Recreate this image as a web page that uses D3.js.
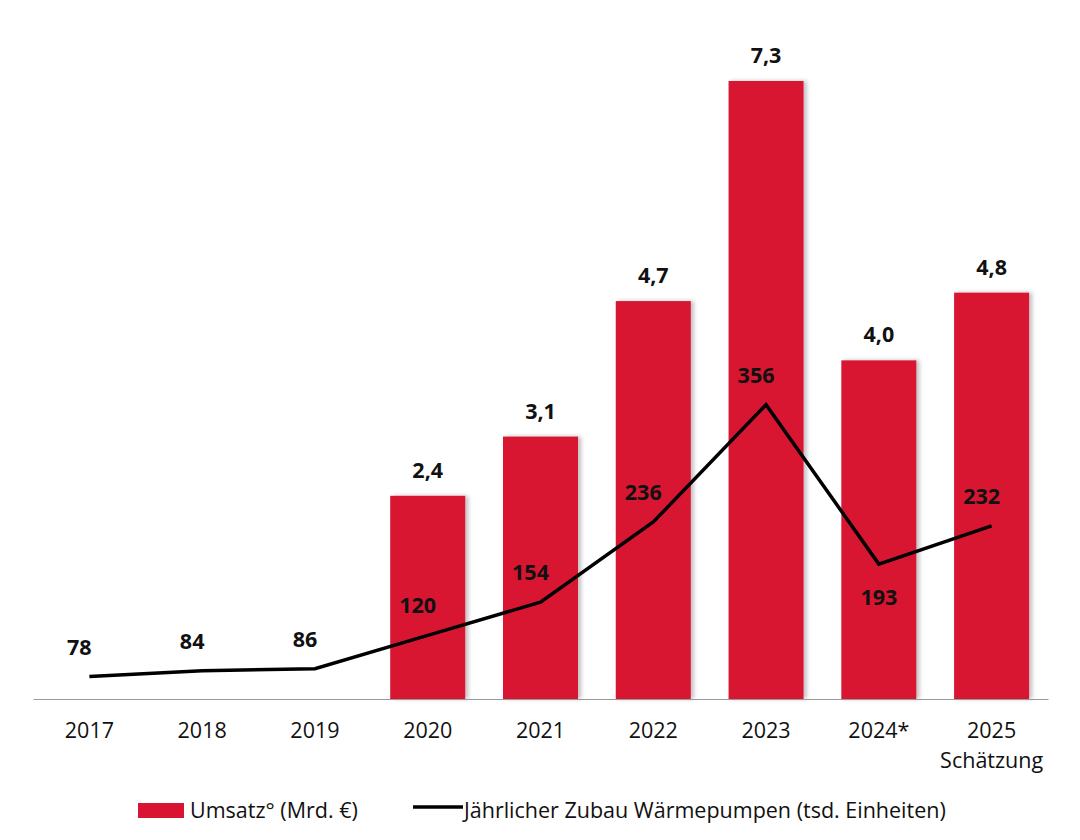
<!DOCTYPE html>
<html>
<head>
<meta charset="utf-8">
<script src="https://cdn.jsdelivr.net/npm/d3@7"></script>
<style>
  body { margin: 0; background: #fff; }
  text { font-family: "Open Sans", sans-serif; fill: #111; }
</style>
</head>
<body>
<div id="chart"></div>
<script>
// ---------------- data ----------------
const years = ["2017", "2018", "2019", "2020", "2021", "2022", "2023", "2024*", "2025"];
const subLabels = ["", "", "", "", "", "", "", "", "Schätzung"];
const umsatz = [null, null, null, 2.4, 3.1, 4.7, 7.3, 4.0, 4.8];
const zubau = [78, 84, 86, 120, 154, 236, 356, 193, 232];
const legendBar = "Umsatz\u00b0 (Mrd. \u20ac)";
const legendLine = "Jährlicher Zubau Wärmepumpen (tsd. Einheiten)";

// ---------------- setup ----------------
const width = 1080, height = 840;
const baseY = 699, topY = 81;
const fs = "21.5px";

const svg = d3.select("#chart").append("svg")
    .attr("width", width)
    .attr("height", height);

const defs = svg.append("defs");
const shadow = defs.append("filter").attr("id", "shadow")
    .attr("x", "-10%").attr("y", "-10%").attr("width", "130%").attr("height", "120%");
shadow.append("feDropShadow")
    .attr("dx", 3).attr("dy", 0).attr("stdDeviation", 2)
    .attr("flood-color", "#000").attr("flood-opacity", 0.25);

const x = d3.scaleBand()
    .domain(years)
    .range([33, 1048])
    .paddingInner(0.335)
    .paddingOuter(0.1675);

const yBar = d3.scaleLinear().domain([0, 7.3]).range([baseY, topY]);
const yLine = d3.scaleLinear().domain([55, 687]).range([baseY, topY]);

const fmt = d => d3.format(".1f")(d).replace(".", ",");

// ---------------- bars ----------------
const barData = years.map((y, i) => ({ year: y, v: umsatz[i] })).filter(d => d.v != null);

svg.append("g").selectAll("rect")
    .data(barData)
    .enter().append("rect")
    .attr("x", d => x(d.year))
    .attr("y", d => yBar(d.v))
    .attr("width", x.bandwidth())
    .attr("height", d => baseY - yBar(d.v))
    .attr("fill", "#d91433")
    .attr("filter", "url(#shadow)");

svg.append("g").selectAll("text")
    .data(barData)
    .enter().append("text")
    .attr("x", d => x(d.year) + x.bandwidth() / 2)
    .attr("y", d => yBar(d.v) - 18)
    .attr("text-anchor", "middle")
    .style("font-size", fs)
    .style("font-weight", "bold")
    .text(d => fmt(d.v));

// ---------------- axis ----------------
const xAxis = d3.axisBottom(x).tickSize(0).tickPadding(0).tickFormat("");
const axisG = svg.append("g")
    .attr("transform", `translate(0,${baseY})`)
    .call(xAxis);
axisG.select(".domain").attr("stroke", "#999").attr("stroke-width", 1);

axisG.selectAll(".tick").each(function (d, i) {
    const t = d3.select(this);
    t.append("text")
        .attr("y", 39)
        .attr("text-anchor", "middle")
        .style("font-size", fs)
        .text(d);
    if (subLabels[i]) {
        t.append("text")
            .attr("y", 69)
            .attr("text-anchor", "middle")
            .style("font-size", fs)
            .text(subLabels[i]);
    }
});

// ---------------- line ----------------
const lineData = years.map((y, i) => ({ year: y, v: zubau[i], i: i }));
const cx = d => x(d.year) + x.bandwidth() / 2;
const isBelow = d => d.i > 0 && d.v < zubau[d.i - 1];

const line = d3.line()
    .x(cx)
    .y(d => yLine(d.v));

svg.append("path")
    .datum(lineData)
    .attr("d", line)
    .attr("fill", "none")
    .attr("stroke", "#000")
    .attr("stroke-width", 3.5)
    .attr("stroke-linejoin", "miter");

svg.append("g").selectAll("text")
    .data(lineData)
    .enter().append("text")
    .attr("x", d => isBelow(d) ? cx(d) : cx(d) - 10)
    .attr("y", d => isBelow(d) ? yLine(d.v) + 41 : yLine(d.v) - 22)
    .attr("text-anchor", "middle")
    .style("font-size", fs)
    .style("font-weight", "bold")
    .text(d => d.v);

// ---------------- legend ----------------
const legend = svg.append("g").attr("transform", "translate(138,803)");
legend.append("rect")
    .attr("width", 46).attr("height", 15)
    .attr("fill", "#d91433");
legend.append("text")
    .attr("x", 52).attr("y", 15)
    .style("font-size", fs)
    .text(legendBar);
legend.append("line")
    .attr("x1", 275).attr("x2", 325)
    .attr("y1", 4).attr("y2", 4)
    .attr("stroke", "#000").attr("stroke-width", 3.5);
legend.append("text")
    .attr("x", 326).attr("y", 15)
    .style("font-size", fs)
    .text(legendLine);
</script>
</body>
</html>
